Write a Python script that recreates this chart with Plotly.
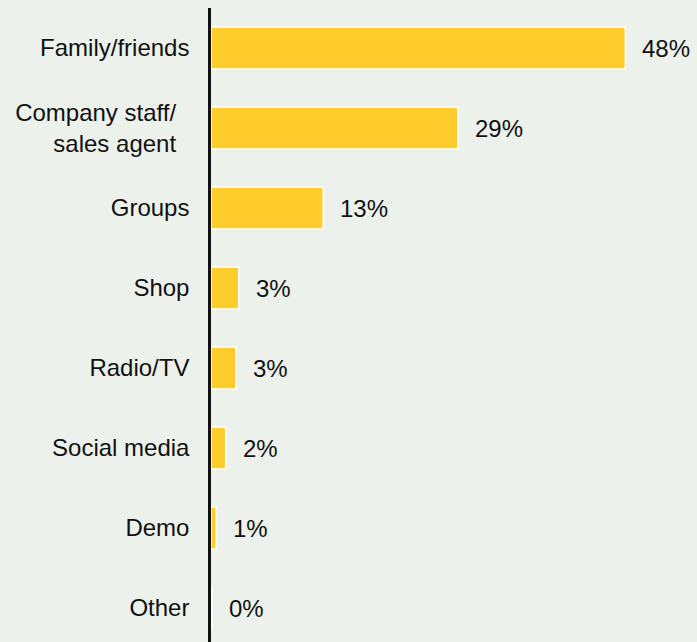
import plotly.graph_objects as go

# Survey: where respondents first heard about the product (% of respondents)
categories = [
    "Family/friends",
    "Company staff/\u00a0\u00a0<br>sales agent\u00a0\u00a0",
    "Groups",
    "Shop",
    "Radio/TV",
    "Social media",
    "Demo",
    "Other",
]
shares = [48.0, 28.6, 13.0, 3.2, 2.9, 1.7, 0.6, 0.1]

BG = "#EDF1EC"
BAR = "#FFCC2B"
FONT = "Liberation Sans, Arial, sans-serif"

fig = go.Figure(
    go.Bar(
        x=shares,
        y=categories,
        orientation="h",
        marker=dict(color=BAR, line=dict(color="white", width=1.5)),
        hoverinfo="skip",
    )
)

# value labels just past the end of each bar
for cat, val in zip(categories, shares):
    fig.add_annotation(
        x=val, y=cat, text=f"{val:.0f}%", showarrow=False,
        xanchor="left", yanchor="middle", xshift=15,
        font=dict(family=FONT, size=24, color="#111111"),
    )

fig.update_layout(
    width=697, height=642,
    margin=dict(l=211, r=0, t=8, b=0),
    paper_bgcolor=BG, plot_bgcolor=BG,
    bargap=0.475,
    showlegend=False,
    font=dict(family=FONT, size=24, color="#111111"),
    xaxis=dict(range=[0, 56.3], visible=False, fixedrange=True),
    yaxis=dict(
        type="category",
        range=[7.425, -0.5],
        showline=True, linecolor="#111111", linewidth=2.5,
        showgrid=False, zeroline=False, ticks="",
        ticklabelstandoff=14,
        tickfont=dict(family=FONT, size=24, color="#111111"),
    ),
)

fig.write_html("out.html")
